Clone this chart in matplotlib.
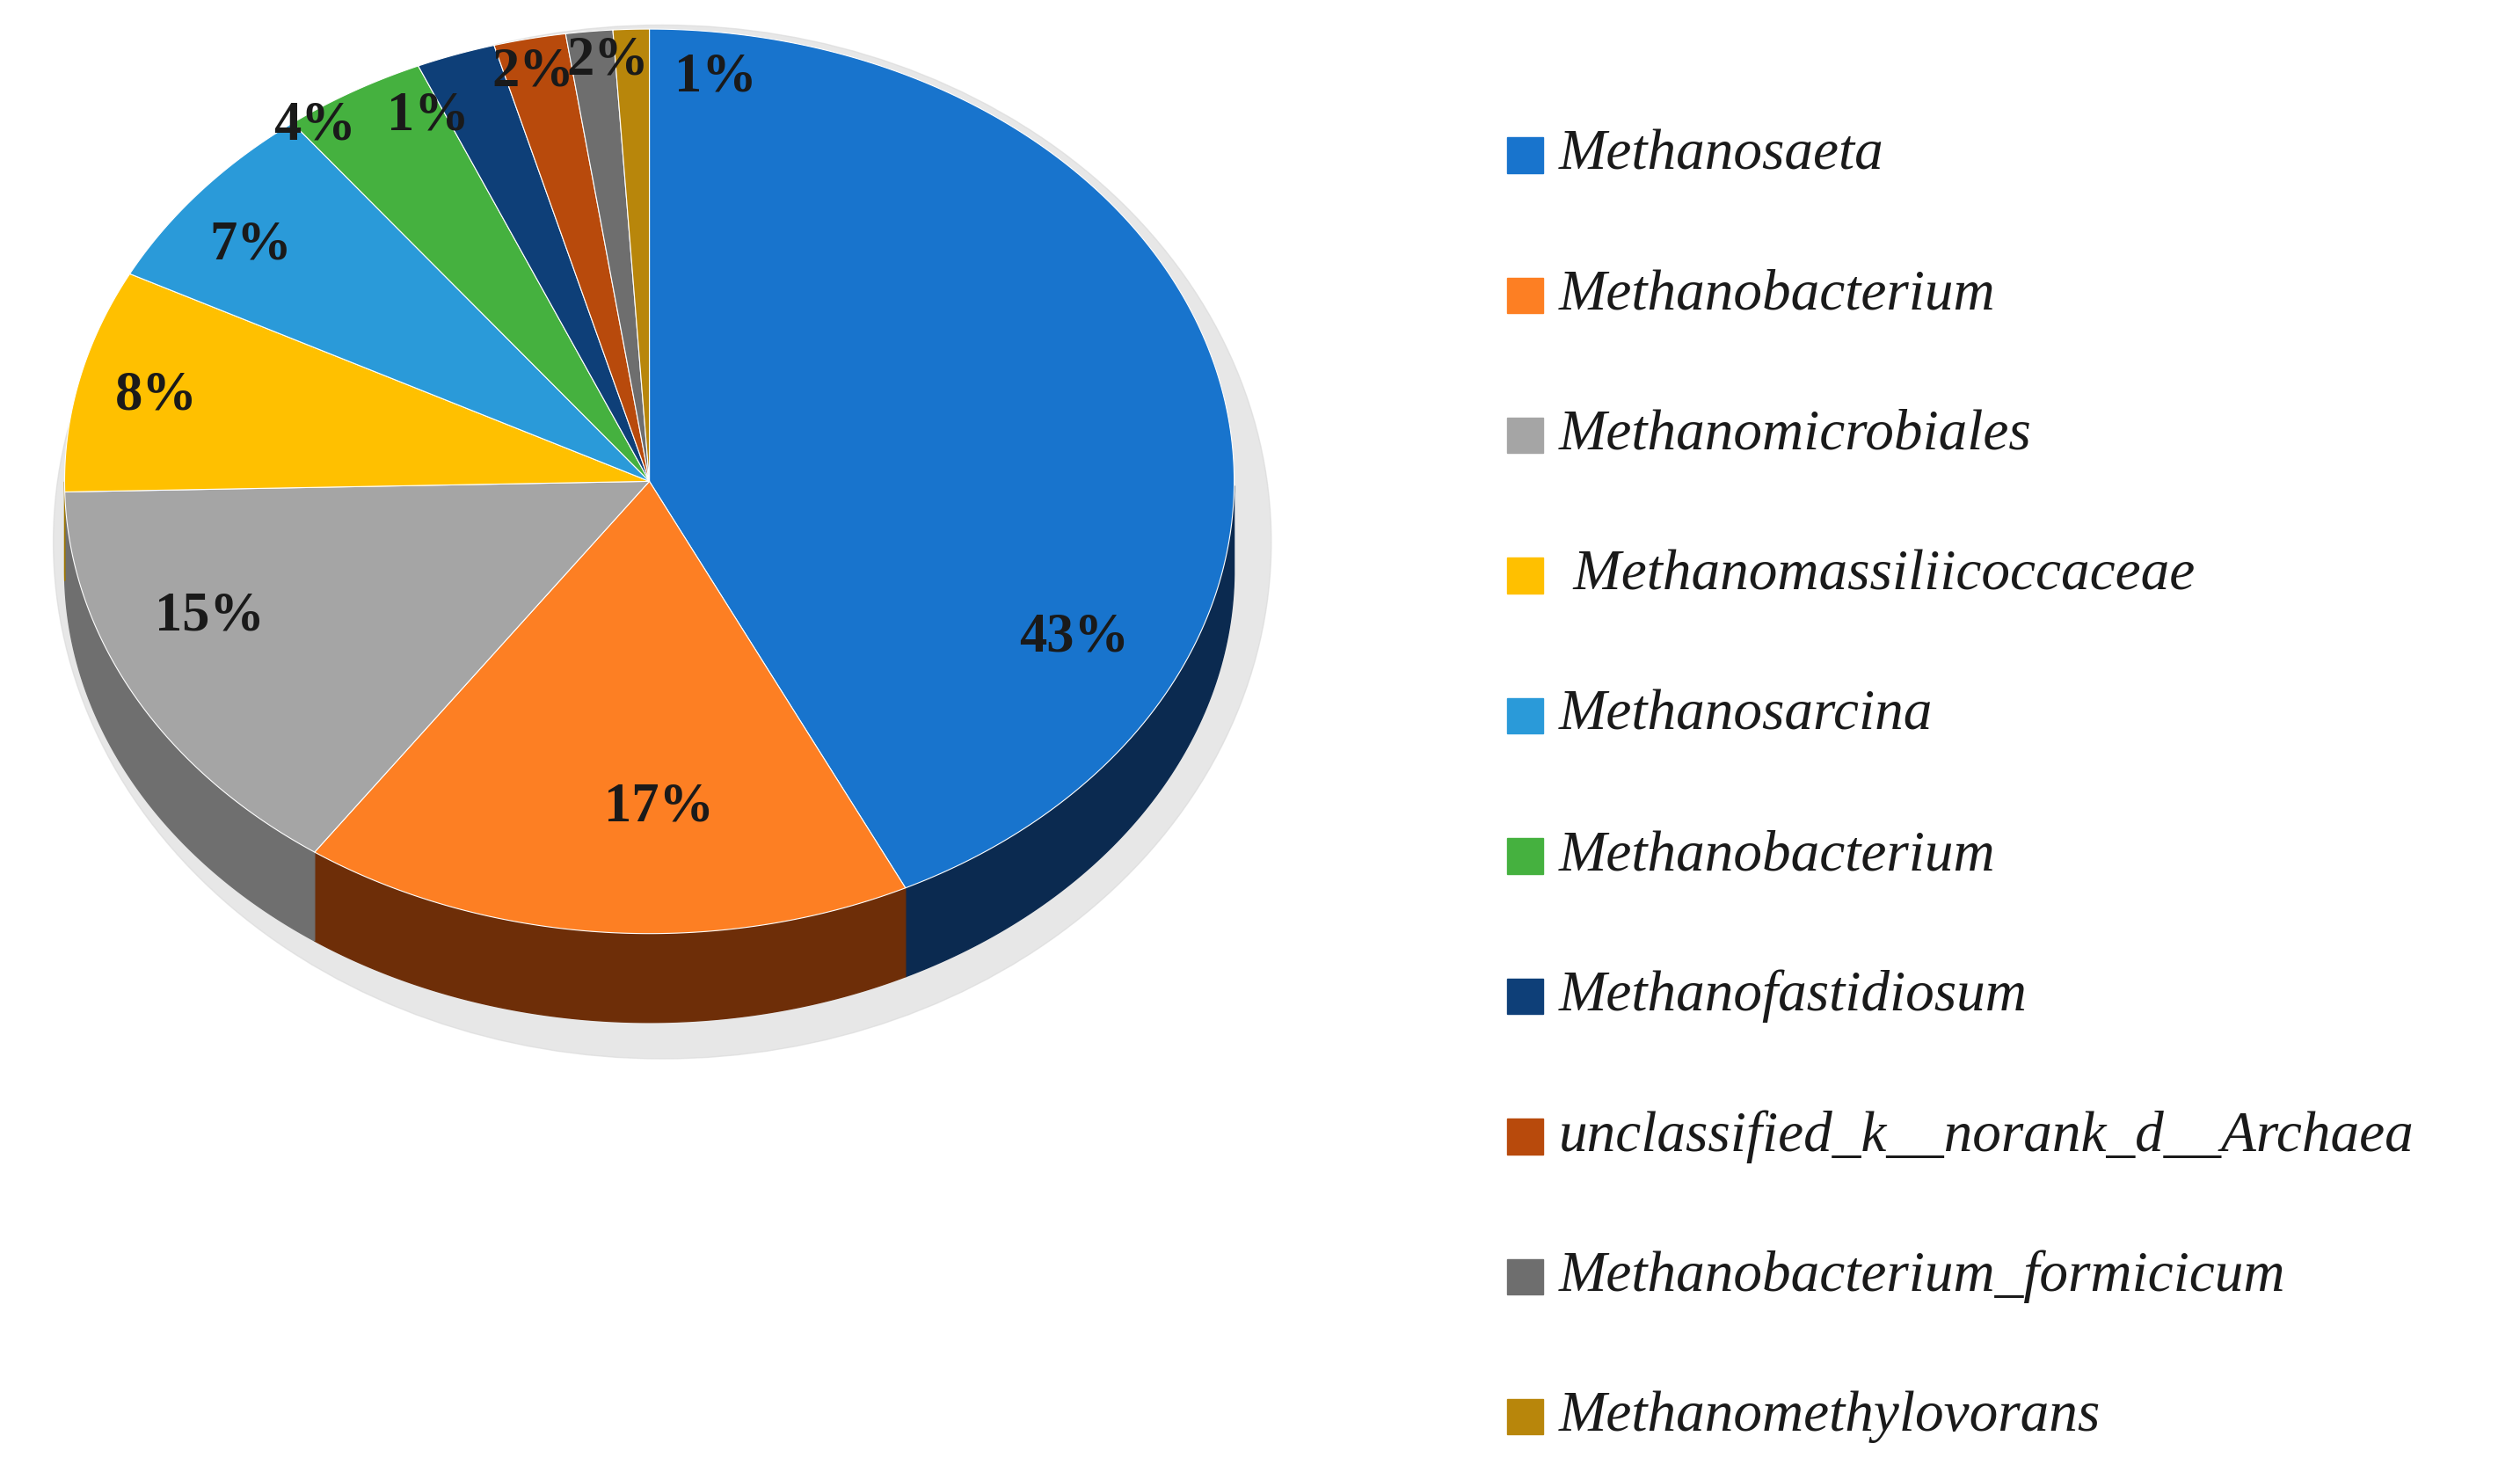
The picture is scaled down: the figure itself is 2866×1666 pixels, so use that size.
import numpy as np
import matplotlib.pyplot as plt
from matplotlib.patches import Polygon, Ellipse, Rectangle

names = ['Methanosaeta', 'Methanobacterium', 'Methanomicrobiales', ' Methanomassiliicoccaceae',
         'Methanosarcina', 'Methanobacterium', 'Methanofastidiosum',
         'unclassified_k__norank_d__Archaea', 'Methanobacterium_formicicum', 'Methanomethylovorans']
values = [43, 17, 15, 8, 7, 4, 1, 2, 2, 1]
sizes = [43, 17, 15, 8, 7, 4, 2.2, 2, 1.3, 1]  # drawn angular share
colors = ['#1874cd', '#fd7f23', '#a5a5a5', '#ffc000', '#2a9ad9', '#45b13f',
          '#0e3f78', '#b84a0c', '#6e6e6e', '#b8860b']
sides = ['#0b2a50', '#6e2e08', '#6f6f6f', '#a07800', '#186a98', '#2c7a28',
         '#08264a', '#6a2a06', '#444444', '#7a5a08']
# label anchor points as in the original figure (reference pixel space)
label_pos = [(665, 395), (408, 500), (130, 382), (97, 245), (155, 152),
             (195, 78), (265, 72), (330, 45), (376, 38), (443, 48)]

W, H = 1560, 907
fig = plt.figure(figsize=(28.66, 16.66), dpi=100)
ax = fig.add_axes([0, 0, 1, 1])
ax.set_xlim(0, W)
ax.set_ylim(H, 0)
ax.axis('off')

cx, cy, rx, ry, depth = 402, 298, 362, 280, 55

# shadow
ax.add_patch(Ellipse((cx + 8, cy + depth / 2 + 10), 2 * rx + 30, 2 * ry + depth + 25,
                     color='#d8d8d8', alpha=0.6, zorder=0))

frac = np.array(sizes) / sum(sizes)
edges = 90 - 360 * np.concatenate([[0], np.cumsum(frac)])

def pt(a, r=1.0):
    t = np.radians(a)
    return cx + r * rx * np.cos(t), cy - r * ry * np.sin(t)

# side walls (front half only)
for i in range(len(values)):
    angs = np.linspace(edges[i], edges[i + 1], 200)
    angs = angs[np.sin(np.radians(angs)) <= 0.001]
    if len(angs) < 2:
        continue
    top = [pt(a) for a in angs]
    bot = [(x, y + depth) for x, y in top[::-1]]
    ax.add_patch(Polygon(top + bot, closed=True, color=sides[i], zorder=1))

# top faces
for i in range(len(values)):
    angs = np.linspace(edges[i], edges[i + 1], 200)
    poly = [(cx, cy)] + [pt(a) for a in angs]
    ax.add_patch(Polygon(poly, closed=True, facecolor=colors[i],
                         edgecolor='white', linewidth=0.8, zorder=2))

# percentage labels
for (x, y), v in zip(label_pos, values):
    ax.text(x, y, f'{v}%', ha='center', va='center', fontsize=45, fontweight='bold',
            family='Liberation Serif', color='#1a1a1a', zorder=3)

# legend
for i, n in enumerate(names):
    y = 96 + i * 86.8
    ax.add_patch(Rectangle((933, y - 11), 22, 22, color=colors[i], zorder=3))
    ax.text(965, y, n, ha='left', va='center', fontsize=47, style='italic',
            family='Liberation Serif', color='#1a1a1a')

fig.savefig('out.png', dpi=100)
